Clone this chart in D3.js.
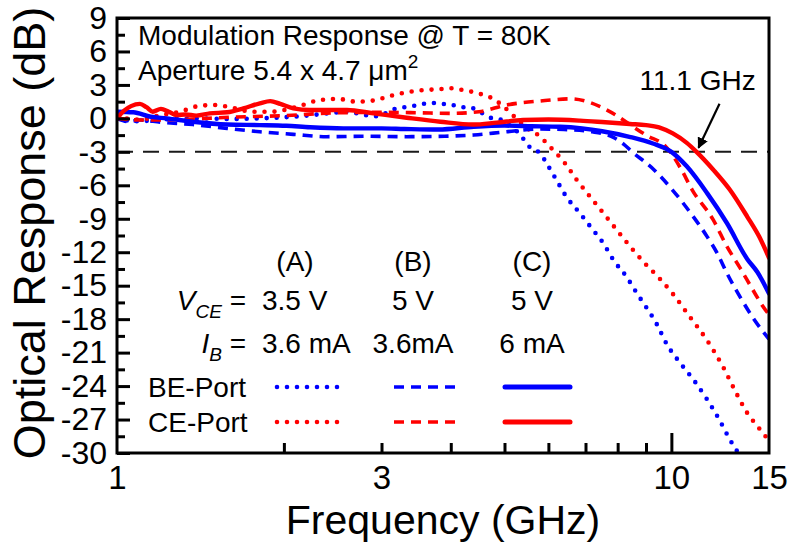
<!DOCTYPE html>
<html>
<head>
<meta charset="utf-8">
<script src="https://cdn.jsdelivr.net/npm/d3@7"></script>
<style>
  html, body { margin: 0; padding: 0; background: #fff; }
  svg { display: block; font-family: "Liberation Sans", Arial, sans-serif; }
</style>
</head>
<body>
<svg id="chart" width="793" height="543"></svg>
<script>
// ---- measured modulation response, dB vs GHz ----
// (A) VCE = 3.5 V, IB = 3.6 mA
const beA_f  = [1.0, 1.05, 1.1, 1.2, 1.4, 1.6, 1.8, 2.0, 2.2, 2.4, 2.6, 2.8, 2.95, 3.15, 3.3, 3.5, 3.67, 3.85, 4.0, 4.15, 4.3, 4.46, 4.6, 4.75, 4.95, 5.15, 5.37, 5.48, 5.65, 5.8, 5.95, 6.2, 6.46, 6.84, 7.22, 7.54, 7.86, 8.3, 8.67, 9.0, 9.4, 9.8, 10.4, 10.97, 11.6, 12.2, 12.75, 13.2, 13.5];
const beA_db = [0.0, -0.2, -0.25, -0.1, 0.0, -0.05, 0.0, 0.1, 0.25, 0.45, 0.6, 0.3, 0.2, 0.8, 1.0, 1.2, 1.4, 1.3, 1.25, 1.0, 1.0, 0.75, 0.35, 0.0, -0.15, -0.8, -1.6, -2.3, -2.8, -3.13, -4.0, -5.5, -7.0, -8.5, -10.0, -11.2, -12.7, -14.2, -15.7, -16.9, -18.4, -20.2, -22.0, -23.45, -25.2, -27.0, -28.8, -30.0, -30.8];
const ceA_f  = [1.0, 1.1, 1.2, 1.3, 1.4, 1.5, 1.6, 1.75, 1.9, 2.1, 2.3, 2.5, 2.7, 2.9, 3.1, 3.3, 3.5, 3.85, 4.0, 4.2, 4.4, 4.55, 4.75, 4.9, 5.1, 5.25, 5.5, 5.8, 6.0, 6.2, 6.43, 6.75, 7.13, 7.54, 7.97, 8.43, 8.9, 9.5, 10.05, 10.8, 11.6, 12.4, 13.1, 13.7, 14.3, 15.0];
const ceA_db = [0.1, -0.1, 0.3, 0.6, 1.1, 1.2, 1.0, 0.6, 0.6, 1.0, 1.6, 1.75, 1.5, 1.6, 2.0, 2.3, 2.5, 2.63, 2.7, 2.55, 2.35, 2.15, 1.8, 1.35, 0.6, 0.0, -0.9, -1.64, -2.4, -3.13, -4.03, -5.52, -7.0, -8.5, -10.0, -11.5, -12.85, -14.3, -15.7, -17.8, -19.9, -22.3, -24.65, -26.4, -27.6, -28.9];
// (B) VCE = 5 V, IB = 3.6 mA
const beB_f  = [1.0, 1.05, 1.1, 1.2, 1.37, 1.58, 1.81, 2.08, 2.39, 2.8, 3.33, 3.9, 4.4, 5.04, 5.8, 6.4, 7.2, 7.86, 8.2, 8.5, 9.3, 10.0, 10.8, 11.6, 12.1, 12.6, 13.3, 14.0, 15.0];
const beB_db = [0.0, -0.3, -0.15, -0.35, -0.55, -0.9, -1.2, -1.43, -1.64, -1.6, -1.64, -1.6, -1.49, -1.2, -0.95, -1.0, -1.2, -1.7, -2.3, -3.0, -4.6, -6.3, -8.4, -10.6, -12.1, -13.9, -16.0, -17.8, -19.8];
const ceB_f  = [1.0, 1.1, 1.3, 1.6, 2.0, 2.5, 3.0, 3.5, 4.0, 4.5, 5.04, 5.8, 6.6, 7.0, 7.44, 8.0, 8.33, 9.0, 9.8, 10.4, 10.9, 11.9, 12.6, 13.3, 14.0, 14.6, 15.0];
const ceB_db = [0.0, -0.15, -0.1, 0.1, 0.25, 0.5, 0.55, 0.5, 0.45, 0.6, 1.2, 1.56, 1.75, 1.55, 1.05, 0.2, -0.4, -1.5, -2.6, -4.5, -6.4, -9.1, -11.5, -13.4, -15.3, -16.8, -17.6];
// (C) VCE = 5 V, IB = 6 mA
const beC_f  = [1.0, 1.07, 1.15, 1.23, 1.37, 1.58, 1.81, 2.02, 2.23, 2.56, 3.0, 3.3, 3.8, 4.4, 5.0, 5.6, 6.3, 6.9, 7.5, 8.4, 9.26, 10.0, 10.66, 11.6, 12.6, 13.7, 14.3, 15.0];
const beC_db = [0.6, 0.55, 0.15, 0.0, -0.3, -0.55, -0.6, -0.66, -0.8, -0.9, -0.9, -0.95, -1.0, -0.75, -0.65, -0.7, -0.75, -0.9, -1.15, -1.65, -2.25, -3.0, -4.3, -6.7, -9.4, -12.6, -13.8, -15.7];
const ceC_f  = [1.0, 1.03, 1.06, 1.1, 1.13, 1.16, 1.2, 1.24, 1.28, 1.33, 1.39, 1.47, 1.58, 1.69, 1.81, 1.89, 1.97, 2.08, 2.23, 2.39, 2.6, 2.9, 3.33, 3.83, 4.39, 4.84, 5.4, 6.0, 6.84, 7.6, 8.42, 9.0, 9.5, 10.06, 10.66, 11.1, 11.9, 12.75, 13.7, 14.4, 15.0];
const ceC_db = [0.0, 0.7, 1.1, 1.3, 1.0, 0.6, 0.85, 0.6, 0.3, 0.35, 0.25, 0.45, 0.55, 0.9, 1.35, 1.55, 1.3, 0.9, 0.75, 0.75, 0.75, 0.45, 0.06, -0.3, -0.55, -0.38, -0.15, -0.1, -0.2, -0.35, -0.5, -0.6, -0.8, -1.35, -2.2, -3.0, -4.6, -6.4, -8.8, -10.6, -12.5];

// ---- axis ticks ----
const yMajorTicks = [9, 6, 3, 0, -3, -6, -9, -12, -15, -18, -21, -24, -27, -30];
const yMinorTicks = [7.5, 4.5, 1.5, -1.5, -4.5, -7.5, -10.5, -13.5, -16.5, -19.5, -22.5, -25.5, -28.5];
const xLabelTicks = [1, 3, 10, 15];
const xMinorTicks = [2, 3, 4, 5, 6, 7, 8, 9];
const xMajorTicks = [10];

// ---- legend table ----
const conditionLabels = ["(A)", "(B)", "(C)"];
const vceLabels = ["3.5 V", "5 V", "5 V"];
const ibLabels = ["3.6 mA", "3.6mA", "6 mA"];
const portLabels = ["BE-Port", "CE-Port"];
const cutoffGHz = 11.1;
const cutoffLevel = -3;

const RED = "#ff0000", BLUE = "#0000ff";
const styles = {
  A: { dash: "0 10", width: 4.6, cap: "round" },
  B: { dash: "10 7", width: 3.6, cap: "butt" },
  C: { dash: null,   width: 4.4, cap: "round" }
};
const series = [
  { f: beA_f, db: beA_db, color: BLUE, st: "A" },
  { f: ceA_f, db: ceA_db, color: RED,  st: "A" },
  { f: beB_f, db: beB_db, color: BLUE, st: "B" },
  { f: ceB_f, db: ceB_db, color: RED,  st: "B" },
  { f: beC_f, db: beC_db, color: BLUE, st: "C" },
  { f: ceC_f, db: ceC_db, color: RED,  st: "C" }
];

const svg = d3.select("#chart");
const L = 117, R = 769, T = 18, B = 453;
const x = d3.scaleLog().domain([1, 15]).range([L, R]);
const y = d3.scaleLinear().domain([-30, 9]).range([B, T]);

const defs = svg.append("defs");
defs.append("clipPath").attr("id", "plotClip")
  .append("rect").attr("x", L).attr("y", T).attr("width", R - L).attr("height", B - T);
defs.append("marker")
  .attr("id", "arrowHead").attr("viewBox", "0 0 10 10").attr("refX", 9).attr("refY", 5)
  .attr("markerWidth", 5).attr("markerHeight", 5).attr("markerUnits", "strokeWidth")
  .attr("orient", "auto")
  .append("path").attr("d", "M0,0 L10,5 L0,10 Z").attr("fill", "#000");

// -3 dB reference line
svg.append("line")
  .attr("x1", L).attr("x2", R).attr("y1", y(cutoffLevel)).attr("y2", y(cutoffLevel))
  .attr("stroke", "#1a1a1a").attr("stroke-width", 2).attr("stroke-dasharray", "16 10");

// response curves
const line = d3.line().x(d => x(d[0])).y(d => y(d[1])).curve(d3.curveMonotoneX);
const curves = svg.append("g").attr("clip-path", "url(#plotClip)");
series.forEach(s => {
  const st = styles[s.st];
  curves.append("path")
    .attr("d", line(s.f.map((f, i) => [f, s.db[i]])))
    .attr("fill", "none").attr("stroke", s.color)
    .attr("stroke-width", st.width).attr("stroke-linecap", st.cap)
    .attr("stroke-linejoin", "round")
    .attr("stroke-dasharray", st.dash);
});

// axes
svg.append("g").attr("class", "yax").attr("transform", `translate(${L},0)`)
  .call(d3.axisLeft(y).tickValues(yMajorTicks).tickSize(-13).tickPadding(10).tickFormat(d => String(d)));
svg.append("g").attr("transform", `translate(${L},0)`)
  .call(d3.axisLeft(y).tickValues(yMinorTicks).tickSize(-8).tickFormat(""));
svg.append("g").attr("class", "xax").attr("transform", `translate(0,${B})`)
  .call(d3.axisBottom(x).tickValues(xLabelTicks).tickSize(0).tickPadding(13).tickFormat(d => String(d)));
svg.append("g").attr("transform", `translate(0,${B})`)
  .call(d3.axisBottom(x).tickValues(xMinorTicks).tickSize(-10).tickFormat(""));
svg.append("g").attr("transform", `translate(0,${B})`)
  .call(d3.axisBottom(x).tickValues(xMajorTicks).tickSize(-20).tickFormat(""));
svg.selectAll(".domain").remove();
svg.selectAll(".tick line").attr("stroke", "#000").attr("stroke-width", 3);
svg.selectAll(".tick text").attr("fill", "#000")
  .attr("font-family", "Liberation Sans, Arial, sans-serif");
svg.selectAll(".yax .tick text").attr("font-size", 32);
svg.selectAll(".xax .tick text").attr("font-size", 33);

// frame
svg.append("rect").attr("x", L).attr("y", T).attr("width", R - L).attr("height", B - T)
  .attr("fill", "none").attr("stroke", "#000").attr("stroke-width", 3);

// axis titles
svg.append("text").attr("x", (L + R) / 2).attr("y", 534)
  .attr("text-anchor", "middle").attr("font-size", 41).text("Frequency (GHz)");
svg.append("text").attr("transform", `translate(45,233) rotate(-90)`)
  .attr("text-anchor", "middle").attr("font-size", 45).text("Optical Response (dB)");

// annotations
svg.append("text").attr("x", 138).attr("y", 45).attr("font-size", 28)
  .text("Modulation Response @ T = 80K");
const ap = svg.append("text").attr("x", 138).attr("y", 80).attr("font-size", 28);
ap.append("tspan").text("Aperture 5.4 x 4.7 \u03BCm");
ap.append("tspan").attr("font-size", 19).attr("dy", -12).text("2");

// 3 dB bandwidth marker
const tipX = x(cutoffGHz), tipY = y(cutoffLevel);
svg.append("line")
  .attr("x1", tipX + 23).attr("y1", tipY - 48)
  .attr("x2", tipX + 2).attr("y2", tipY - 4)
  .attr("stroke", "#000").attr("stroke-width", 2.2).attr("marker-end", "url(#arrowHead)");
svg.append("text").attr("x", tipX - 57).attr("y", 90).attr("font-size", 28)
  .text(`${cutoffGHz} GHz`);

// legend table
const colX = [295, 413, 532];
const leg = svg.append("g").attr("font-size", 28);
conditionLabels.forEach((t, i) => leg.append("text").attr("x", colX[i]).attr("y", 271).attr("text-anchor", "middle").text(t));
vceLabels.forEach((t, i) => leg.append("text").attr("x", i === 0 ? 262 : colX[i]).attr("y", 310)
  .attr("text-anchor", i === 0 ? "start" : "middle").text(t));
ibLabels.forEach((t, i) => leg.append("text").attr("x", i === 0 ? 262 : colX[i]).attr("y", 353)
  .attr("text-anchor", i === 0 ? "start" : "middle").text(t));

const vce = leg.append("text").attr("x", 246).attr("y", 310).attr("text-anchor", "end");
vce.append("tspan").attr("font-style", "italic").text("V");
vce.append("tspan").attr("font-style", "italic").attr("font-size", 19).attr("dy", 8).text("CE");
vce.append("tspan").attr("dy", -8).text(" =");
const ib = leg.append("text").attr("x", 246).attr("y", 353).attr("text-anchor", "end");
ib.append("tspan").attr("font-style", "italic").text("I");
ib.append("tspan").attr("font-style", "italic").attr("font-size", 19).attr("dy", 8).text("B");
ib.append("tspan").attr("dy", -8).text(" =");

const rowY = [387, 422];
const rowColor = [BLUE, RED];
const segX = [[277, 340], [394, 455], [505, 570]];
portLabels.forEach((t, r) => {
  leg.append("text").attr("x", 148).attr("y", rowY[r] + 10).text(t);
  ["A", "B", "C"].forEach((k, c) => {
    const st = styles[k];
    leg.append("line")
      .attr("x1", segX[c][0]).attr("x2", segX[c][1])
      .attr("y1", rowY[r]).attr("y2", rowY[r])
      .attr("stroke", rowColor[r]).attr("stroke-width", k === "C" ? 5 : st.width)
      .attr("stroke-linecap", st.cap).attr("stroke-dasharray", st.dash);
  });
});
</script>
</body>
</html>
